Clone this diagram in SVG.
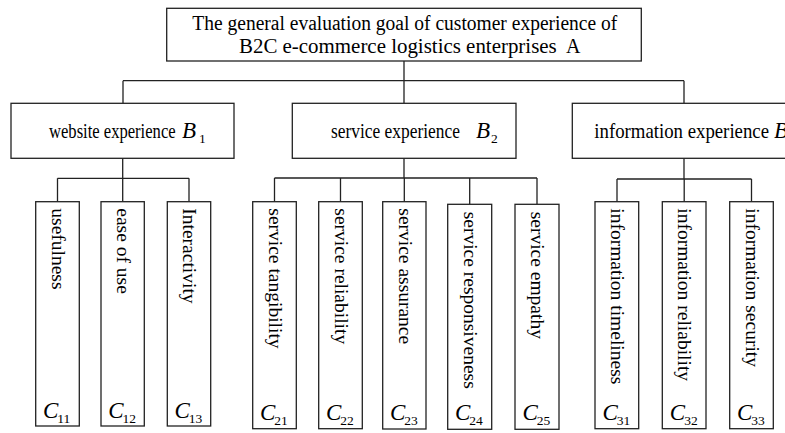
<svg xmlns="http://www.w3.org/2000/svg" width="785" height="433" viewBox="0 0 785 433">
<style>
.box{fill:#fff;stroke:#222;stroke-width:1.3}
.ln{fill:none;stroke:#222;stroke-width:1.3}
.t{font-family:"Liberation Serif","Times New Roman",serif;font-size:20px;fill:#000}
.v{font-family:"Liberation Serif","Times New Roman",serif;font-size:19.5px;fill:#000}
.ci{font-family:"Liberation Serif","Times New Roman",serif;font-size:23px;font-style:italic;fill:#000}
.cs{font-size:13.5px;font-style:normal}
</style>
<rect width="785" height="433" fill="#fff"/>
<g id="connectors">
<path class="ln" d="M404,61V80.7M123,80.7H684M123,80.7V103.3M404,80.7V103.3M684,80.7V103.3"/>
<path class="ln" d="M122.7,158.3V178.3M57.5,178.3H189M57.5,178.3V201.7M122.7,178.3V201.7M189,178.3V201.7"/>
<path class="ln" d="M404,158.3V178M274.5,178H537M274.5,178V201.7M340.5,178V201.7M404.3,178V201.7M469.7,178V204.3M537,178V204.3"/>
<path class="ln" d="M684,158.3V179M617,179H751.5M617,179V201.7M684.2,179V201.7M751.5,179V201.7"/>
</g>
<g id="A">
<rect class="box" x="166.7" y="8.3" width="474.6" height="52.7"/>
<text class="t" x="192.3" y="29.5" textLength="425" lengthAdjust="spacingAndGlyphs">The general evaluation goal of customer experience of</text>
<text class="t" x="239" y="53.3" textLength="317.7" lengthAdjust="spacingAndGlyphs">B2C e-commerce logistics enterprises</text>
<text class="t" x="566" y="53.3">A</text>
</g>
<g id="B1">
<rect class="box" x="11" y="103.3" width="223" height="55"/>
<text class="t" transform="translate(49,138.3) scale(0.83,1)">website experience</text>
<text class="ci" x="182" y="138.3">B<tspan class="cs" dx="3" dy="4.5">1</tspan></text>
</g>
<g id="B2">
<rect class="box" x="292.3" y="103.3" width="223.7" height="55"/>
<text class="t" transform="translate(331,138.3) scale(0.87,1)">service experience</text>
<text class="ci" x="476" y="138.3">B<tspan class="cs" dx="1" dy="4.5">2</tspan></text>
</g>
<g id="B3">
<rect class="box" x="572.3" y="103.3" width="230" height="55"/>
<text class="t" transform="translate(594.3,138.3) scale(0.94,1)">information experience</text>
<text class="ci" x="774" y="138.3">B</text>
</g>
<g id="C11"><rect class="box" x="35.7" y="201.7" width="43.6" height="224.3"/><text class="v" transform="translate(51.7,208.3) rotate(90)">usefulness</text><text class="ci" x="43" y="417.7">C<tspan class="cs" dx="-1" dy="5.6">11</tspan></text></g>
<g id="C12"><rect class="box" x="101" y="201.7" width="43.3" height="224.3"/><text class="v" transform="translate(116.9,208.3) rotate(90)">ease of use</text><text class="ci" x="108.2" y="417.7">C<tspan class="cs" dx="-1" dy="5.6">12</tspan></text></g>
<g id="C13"><rect class="box" x="167.3" y="201.7" width="43.4" height="224.3"/><text class="v" transform="translate(183.2,208.3) rotate(90)">Interactivity</text><text class="ci" x="174.5" y="417.7">C<tspan class="cs" dx="-1" dy="5.6">13</tspan></text></g>
<g id="C21"><rect class="box" x="252.7" y="201.7" width="43.6" height="227"/><text class="v" transform="translate(268.7,208.3) rotate(90)">service tangibility</text><text class="ci" x="260" y="419.5">C<tspan class="cs" dx="-1" dy="5.6">21</tspan></text></g>
<g id="C22"><rect class="box" x="318.7" y="201.7" width="43.6" height="227"/><text class="v" transform="translate(334.7,208.3) rotate(90)">service reliability</text><text class="ci" x="326" y="419.5">C<tspan class="cs" dx="-1" dy="5.6">22</tspan></text></g>
<g id="C23"><rect class="box" x="382.7" y="201.7" width="43.3" height="227.3"/><text class="v" transform="translate(398.5,208.3) rotate(90)">service assurance</text><text class="ci" x="390" y="419.5">C<tspan class="cs" dx="-1" dy="5.6">23</tspan></text></g>
<g id="C24"><rect class="box" x="447.7" y="204.3" width="44" height="225"/><text class="v" transform="translate(463.9,211.7) rotate(90)">service responsiveness</text><text class="ci" x="455" y="419.5">C<tspan class="cs" dx="-1" dy="5.6">24</tspan></text></g>
<g id="C25"><rect class="box" x="515" y="204.3" width="44" height="225"/><text class="v" transform="translate(531.2,211.7) rotate(90)">service empathy</text><text class="ci" x="522.5" y="419.5">C<tspan class="cs" dx="-1" dy="5.6">25</tspan></text></g>
<g id="C31"><rect class="box" x="595" y="201.7" width="43.7" height="227"/><text class="v" transform="translate(611,208.3) rotate(90)">information timeliness</text><text class="ci" x="602.5" y="419.5">C<tspan class="cs" dx="-1" dy="5.6">31</tspan></text></g>
<g id="C32"><rect class="box" x="662.3" y="201.7" width="43.7" height="227"/><text class="v" transform="translate(678.4,208.3) rotate(90)">information reliability</text><text class="ci" x="669.8" y="419.5">C<tspan class="cs" dx="-1" dy="5.6">32</tspan></text></g>
<g id="C33"><rect class="box" x="729.7" y="201.7" width="43.6" height="227"/><text class="v" transform="translate(745.7,208.3) rotate(90)">information security</text><text class="ci" x="737" y="419.5">C<tspan class="cs" dx="-1" dy="5.6">33</tspan></text></g>
</svg>
